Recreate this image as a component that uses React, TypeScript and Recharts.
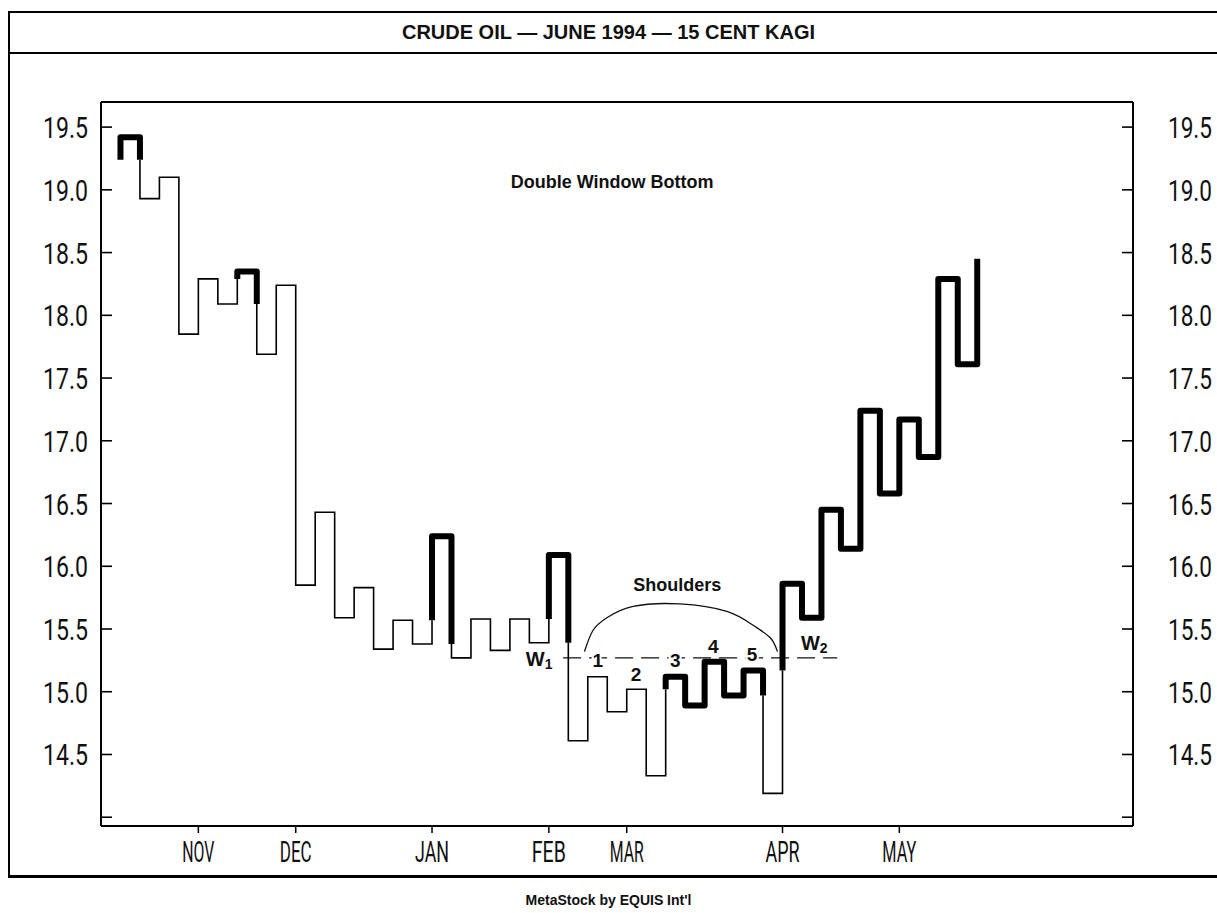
import React from 'react';
import { LineChart, Line, XAxis, YAxis, ReferenceLine, ReferenceDot } from 'recharts';

// kagi reversal prices in order (first value = starting price)
const turns = [
  19.24, 19.42, 18.93, 19.1, 17.85, 18.29, 18.09, 18.35, 17.69, 18.24,
  15.85, 16.43, 15.59, 15.83, 15.34, 15.57, 15.38, 16.24, 15.27, 15.58,
  15.33, 15.58, 15.39, 16.09, 14.61, 15.12, 14.84, 15.02, 14.33, 15.12,
  14.89, 15.24, 14.97, 15.17, 14.19, 15.86, 15.59, 16.45, 16.14, 17.24,
  16.58, 17.17, 16.87, 18.29, 17.61, 18.45,
];

const months = ['NOV', 'DEC', 'JAN', 'FEB', 'MAR', 'APR', 'MAY'];
const monthAt = [4, 9, 16, 22, 26, 34, 40];

const yTicks = [14, 14.5, 15, 15.5, 16, 16.5, 17, 17.5, 18, 18.5, 19, 19.5];
const yLabels = ['', '14.5', '15.0', '15.5', '16.0', '16.5', '17.0', '17.5', '18.0', '18.5', '19.0', '19.5'];

// "Shoulders" arc
const arcX = [23.83, 24.27, 24.98, 26.33, 28.72, 31.14, 32.49, 33.37, 33.74];
const arcY = [15.32, 15.49, 15.59, 15.68, 15.7, 15.64, 15.53, 15.43, 15.32];

const windowLevel = 15.27;
const windowFrom = 22.73;
const windowTo = 36.81;

const notes = [
  { x: 25.25, y: 19.06, text: 'Double Window Bottom', size: 18 },
  { x: 28.59, y: 15.85, text: 'Shoulders', size: 18 },
  { x: 24.51, y: 15.25, text: '1', size: 19 },
  { x: 26.48, y: 15.14, text: '2', size: 19 },
  { x: 28.49, y: 15.25, text: '3', size: 19 },
  { x: 30.44, y: 15.36, text: '4', size: 19 },
  { x: 32.44, y: 15.3, text: '5', size: 19 },
];
const windows = [
  { x: 21.5, y: 15.26, sub: '1' },
  { x: 35.63, y: 15.39, sub: '2' },
];

const X_MIN = -1;
const X_MAX = 52;
const Y_MIN = 13.93;
const Y_MAX = 19.7;

type Pt = { x: number; y: number | null };
type Seg = { x1: number; y1: number; x2: number; y2: number; k: boolean };

// split the kagi path into thick (yang) and thin (yin) pieces
function kagiSegments(t: number[]): Seg[] {
  const segs: Seg[] = [];
  let yang = true;
  let hi = t[0];
  let lo = t[0];
  for (let i = 0; i < t.length - 1; i++) {
    const a = t[i];
    const b = t[i + 1];
    if (b > a) {
      if (!yang && b > hi) {
        segs.push({ x1: i, y1: a, x2: i, y2: hi, k: false });
        segs.push({ x1: i, y1: hi, x2: i, y2: b, k: true });
        yang = true;
      } else {
        segs.push({ x1: i, y1: a, x2: i, y2: b, k: yang });
      }
      hi = b;
    } else {
      if (yang && b < lo) {
        segs.push({ x1: i, y1: a, x2: i, y2: lo, k: true });
        segs.push({ x1: i, y1: lo, x2: i, y2: b, k: false });
        yang = false;
      } else {
        segs.push({ x1: i, y1: a, x2: i, y2: b, k: yang });
      }
      lo = b;
    }
    if (i < t.length - 2) segs.push({ x1: i, y1: b, x2: i + 1, y2: b, k: yang });
  }
  return segs;
}

function runs(segs: Seg[], k: boolean): Pt[] {
  const out: Pt[] = [];
  let prev = false;
  segs.forEach((s) => {
    if (s.k === k) {
      if (!prev) {
        if (out.length) out.push({ x: s.x1, y: null });
        out.push({ x: s.x1, y: s.y1 });
      }
      out.push({ x: s.x2, y: s.y2 });
      prev = true;
    } else {
      prev = false;
    }
  });
  return out;
}

const segs = kagiSegments(turns);
const thickData = runs(segs, true);
const thinData = runs(segs, false);
const arcData = arcX.map((x, i) => ({ x, y: arcY[i] }));

const tickFont: React.CSSProperties = {
  fontFamily: 'Roboto, "DejaVu Sans", sans-serif',
  fontWeight: 400,
  fontSize: 30,
  fill: '#111',
};
const labelFont = '"Liberation Sans", Arial, sans-serif';

// narrow plotter-style label: squeezed horizontally to width w
const Narrow = ({ x, y, w, text }: { x: number; y: number; w: number; text: string }) => {
  const sx = 0.7;
  return (
    <g transform={`translate(${x},${y}) scale(${sx},1)`}>
      <text x={0} y={0} textLength={w / sx} lengthAdjust="spacingAndGlyphs" style={tickFont}>
        {text}
      </text>
    </g>
  );
};

const LeftTick = (props: any) => {
  const { x, y, payload } = props;
  const label = yLabels[yTicks.indexOf(payload.value)] || '';
  return (
    <g>
      <line x1={x + 13} x2={x + 24} y1={y} y2={y} stroke="#000" strokeWidth={1.6} />
      {label && <Narrow x={x - 45} y={y + 11} w={45} text={label} />}
    </g>
  );
};

const RightTick = (props: any) => {
  const { x, y, payload } = props;
  const label = yLabels[yTicks.indexOf(payload.value)] || '';
  return (
    <g>
      <line x1={x - 35} x2={x - 46} y1={y} y2={y} stroke="#000" strokeWidth={1.6} />
      {label && <Narrow x={x} y={y + 11} w={44} text={label} />}
    </g>
  );
};

const MonthTick = (props: any) => {
  const { x, y, payload } = props;
  const label = months[monthAt.indexOf(payload.value)] || '';
  const w = label === 'NOV' || label === 'DEC' ? 32 : 34;
  return <Narrow x={x - w / 2} y={y + 23} w={w} text={label} />;
};

const NoteShape = (text: string, size: number) => (p: any) => (
  <text
    x={p.cx}
    y={p.cy}
    textAnchor="middle"
    dominantBaseline="central"
    fontFamily={labelFont}
    fontWeight={700}
    fontSize={size}
    fill="#111"
    stroke="#fff"
    strokeWidth={4}
    paintOrder="stroke"
  >
    {text}
  </text>
);

const WShape = (sub: string) => (p: any) => (
  <text
    x={p.cx}
    y={p.cy}
    textAnchor="middle"
    dominantBaseline="central"
    fontFamily={labelFont}
    fontWeight={700}
    fontSize={20}
    fill="#111"
    stroke="#fff"
    strokeWidth={4}
    paintOrder="stroke"
  >
    W<tspan fontSize={14} dy={5}>{sub}</tspan>
  </text>
);

export default function App() {
  return (
    <div style={{ position: 'absolute', left: 0, top: 0, width: 1217, height: 913, background: '#fff', overflow: 'hidden' }}>
      <LineChart width={1217} height={913} margin={{ top: 102, left: 41, right: 4, bottom: 47 }}>
        <XAxis
          type="number"
          dataKey="x"
          domain={[X_MIN, X_MAX]}
          allowDataOverflow
          ticks={monthAt}
          interval={0}
          height={40}
          tickSize={7}
          tickMargin={6}
          axisLine={{ stroke: '#000', strokeWidth: 2 }}
          tickLine={{ stroke: '#000', strokeWidth: 1.5 }}
          tick={<MonthTick />}
        />
        <YAxis
          type="number"
          domain={[Y_MIN, Y_MAX]}
          allowDataOverflow
          ticks={yTicks}
          interval={0}
          width={60}
          tickSize={0}
          tickMargin={13}
          axisLine={{ stroke: '#000', strokeWidth: 2 }}
          tickLine={false}
          tick={<LeftTick />}
        />
        <YAxis
          yAxisId="r"
          orientation="right"
          type="number"
          domain={[Y_MIN, Y_MAX]}
          allowDataOverflow
          ticks={yTicks}
          interval={0}
          width={80}
          tickSize={0}
          tickMargin={35}
          axisLine={{ stroke: '#000', strokeWidth: 2 }}
          tickLine={false}
          tick={<RightTick />}
        />
        <ReferenceLine y={Y_MAX} stroke="#000" strokeWidth={2} />
        <ReferenceLine
          segment={[
            { x: windowFrom, y: windowLevel },
            { x: windowTo, y: windowLevel },
          ]}
          stroke="#111"
          strokeWidth={1.4}
          strokeDasharray="18 8"
        />
        <Line
          data={arcData}
          dataKey="y"
          type="natural"
          stroke="#111"
          strokeWidth={1.3}
          dot={false}
          isAnimationActive={false}
        />
        <Line
          data={thinData}
          dataKey="y"
          type="linear"
          stroke="#000"
          strokeWidth={1.6}
          dot={false}
          connectNulls={false}
          isAnimationActive={false}
        />
        <Line
          data={thickData}
          dataKey="y"
          type="linear"
          stroke="#000"
          strokeWidth={6}
          strokeLinejoin="round"
          strokeLinecap="butt"
          dot={false}
          connectNulls={false}
          isAnimationActive={false}
        />
        {notes.map((n) => (
          <ReferenceDot key={n.text} x={n.x} y={n.y} r={0} shape={NoteShape(n.text, n.size)} />
        ))}
        {windows.map((w) => (
          <ReferenceDot key={'w' + w.sub} x={w.x} y={w.y} r={0} shape={WShape(w.sub)} />
        ))}
      </LineChart>

      {/* page frame and title band */}
      <div style={{ position: 'absolute', left: 8, top: 11, width: 1209, height: 2, background: '#000' }} />
      <div style={{ position: 'absolute', left: 8, top: 52, width: 1209, height: 2, background: '#000' }} />
      <div style={{ position: 'absolute', left: 8, top: 11, width: 2, height: 866, background: '#000' }} />
      <div style={{ position: 'absolute', left: 8, top: 875, width: 1209, height: 3, background: '#000' }} />
      <div
        style={{
          position: 'absolute',
          left: 0,
          top: 13,
          width: 1217,
          height: 39,
          display: 'flex',
          alignItems: 'center',
          justifyContent: 'center',
          fontFamily: labelFont,
          fontWeight: 700,
          fontSize: 20,
          color: '#111',
        }}
      >
        CRUDE OIL — JUNE 1994 — 15 CENT KAGI
      </div>
      <div
        style={{
          position: 'absolute',
          left: 0,
          top: 889,
          width: 1217,
          height: 22,
          display: 'flex',
          alignItems: 'center',
          justifyContent: 'center',
          fontFamily: labelFont,
          fontWeight: 700,
          fontSize: 14,
          color: '#111',
        }}
      >
        MetaStock by EQUIS Int'l
      </div>
    </div>
  );
}
